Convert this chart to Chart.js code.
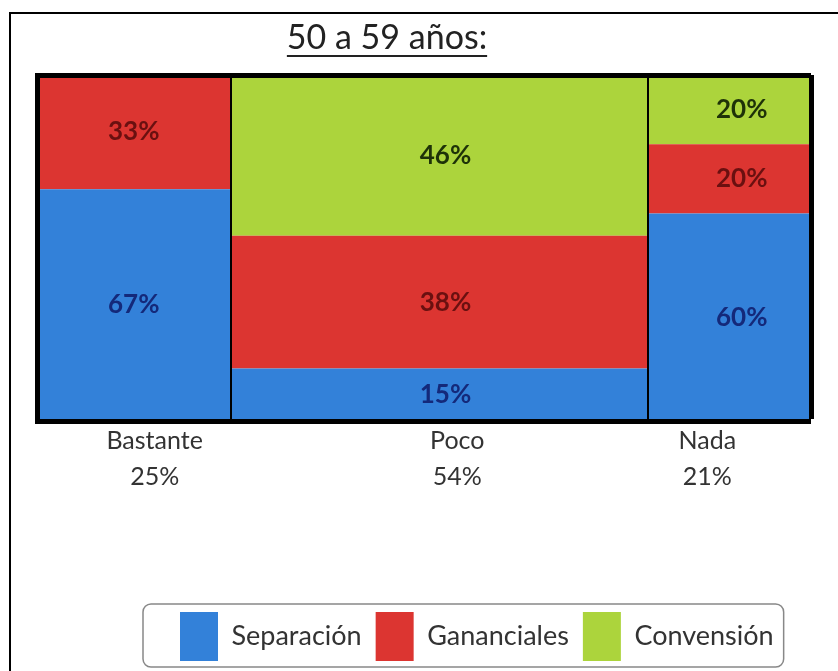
<!DOCTYPE html>
<html><head><meta charset="utf-8">
<script src="https://cdn.jsdelivr.net/npm/chart.js@4.4.1/dist/chart.umd.min.js"></script>
<style>html,body{margin:0;padding:0;background:#fff;overflow:hidden}</style>
</head><body>
<canvas id="c" width="838" height="671"></canvas>
<script>
// ---- data ----
const titleText = '50 a 59 años:';
const categories = ['Bastante', 'Poco', 'Nada'];
const categoryShare = [25, 54, 21];
const seriesNames = ['Separación', 'Gananciales', 'Convensión'];
const separacion = [67, 15, 60];
const gananciales = [33, 38, 20];
const convension = [0, 46, 20];

// ---- styles / layout ----
const FONT = 'Lato, "DejaVu Sans", sans-serif';
const colors = ['#3381d9', '#dc3531', '#acd43c'];
const labelColors = ['#14297a', '#6a1010', '#1e3208'];
const labelTickPos = [15.2, 54.3, 86.6];   // axis units where category captions sit
const cellLabelDx = [0, 6, 12];
const legendStartX = 180;

const seriesValues = [separacion, gananciales, convension];
const bounds = [0];
categoryShare.forEach((s, i) => bounds.push(bounds[i] + s));
const totals = categories.map((_, j) => seriesValues.reduce((a, s) => a + s[j], 0));
const cum = seriesValues.map((_, i) => categories.map((_, j) => {
  let t = 0; for (let k = 0; k <= i; k++) t += seriesValues[k][j];
  return t / totals[j] * 100;
}));

const datasets = seriesNames.map((name, i) => ({
  label: name,
  data: categories.map((_, j) => ({x: bounds[j], y: cum[i][j]}))
        .concat([{x: bounds[categories.length], y: cum[i][categories.length - 1]}]),
  stepped: true,
  backgroundColor: colors[i],
  borderColor: colors[i],
  borderWidth: 0,
  pointRadius: 0,
  pointHoverRadius: 0,
  fill: i === 0 ? 'origin' : '-1'
}));

const decoPlugin = {
  id: 'deco',
  beforeDraw(chart) {
    const c = chart.ctx;
    c.save();
    c.fillStyle = '#fff'; c.fillRect(0, 0, chart.width, chart.height);
    c.strokeStyle = '#000'; c.lineWidth = 2;
    c.strokeRect(10, 13, 900, 900);
    c.restore();
  },
  afterLayout(chart) {
    const lg = chart.legend;
    if (!lg) return;
    const dx = legendStartX - (lg.left + lg.options.labels.padding);
    lg.left += dx; lg.right += dx;
  },
  afterDatasetsDraw(chart) {
    const c = chart.ctx, xs = chart.scales.x, ys = chart.scales.y;
    c.save();
    c.font = 'bold 26px ' + FONT;
    c.textAlign = 'center'; c.textBaseline = 'middle';
    seriesValues.forEach((vals, i) => vals.forEach((v, j) => {
      if (!v) return;
      const x = xs.getPixelForValue((bounds[j] + bounds[j + 1]) / 2) + cellLabelDx[j];
      const yTop = ys.getPixelForValue(cum[i][j]);
      const yBot = ys.getPixelForValue(i ? cum[i - 1][j] : 0);
      c.fillStyle = labelColors[i];
      c.fillText(v + '%', x, (yTop + yBot) / 2);
    }));
    c.restore();
  },
  afterDraw(chart) {
    const c = chart.ctx, ca = chart.chartArea;
    c.save();
    // title with underline
    c.font = '34px ' + FONT;
    c.fillStyle = '#222';
    c.textAlign = 'center'; c.textBaseline = 'alphabetic';
    const tx = (ca.left + ca.right) / 2 - 37;
    c.fillText(titleText, tx, 49);
    const w = c.measureText(titleText).width;
    c.strokeStyle = '#222'; c.lineWidth = 2;
    c.beginPath(); c.moveTo(tx - w / 2, 56); c.lineTo(tx + w / 2, 56); c.stroke();
    // legend frame
    const hb = chart.legend.legendHitBoxes;
    if (hb && hb.length) {
      const last = hb[hb.length - 1];
      const l = hb[0].left - 37, r = last.left + last.width + 10;
      const t = hb[0].top - 8, b = hb[0].top + hb[0].height + 6;
      c.strokeStyle = '#888'; c.lineWidth = 1.5;
      c.beginPath();
      c.roundRect(l, t, r - l, b - t, 8);
      c.stroke();
    }
    c.restore();
  }
};

new Chart(document.getElementById('c'), {
  type: 'line',
  data: {datasets},
  options: {
    responsive: false,
    animation: false,
    events: [],
    layout: {padding: {top: 75, left: 37, right: 27, bottom: 0}},
    scales: {
      x: {
        type: 'linear', min: 0, max: 100, z: 1, weight: 0,
        afterBuildTicks: s => { s.ticks = bounds.map(v => ({value: v})); },
        ticks: {display: false},
        grid: {z: 1, drawTicks: false, color: '#000',
               lineWidth: ctx => ctx.tick && ctx.tick.value === 0 ? 0 : (ctx.tick && ctx.tick.value === 100 ? 5 : 2)},
        border: {z: 2, display: true, color: '#000', width: 5},
        afterFit: s => { s.height = 0; }
      },
      xl: {
        type: 'linear', position: 'bottom', min: 0, max: 100, weight: 1,
        afterBuildTicks: s => { s.ticks = labelTickPos.map(v => ({value: v})); },
        ticks: {autoSkip: false, maxRotation: 0, padding: 2, color: '#333',
                font: {family: FONT, size: 25, lineHeight: 1.44},
                callback: (v, i) => [categories[i], categoryShare[i] + '%']},
        grid: {display: false, drawTicks: false},
        border: {display: false},
        afterFit: s => { s.height = 177; }
      },
      y: {
        type: 'linear', min: 0, max: 100, z: 1,
        afterBuildTicks: s => { s.ticks = [{value: 0}, {value: 100}]; },
        ticks: {display: false},
        grid: {z: 1, drawTicks: false, color: '#000',
               lineWidth: ctx => ctx.tick && ctx.tick.value === 100 ? 5 : 0},
        border: {z: 2, display: true, color: '#000', width: 5},
        afterFit: s => { s.width = 0; }
      }
    },
    plugins: {
      title: {display: false},
      tooltip: {enabled: false},
      legend: {
        position: 'bottom', align: 'start',
        labels: {boxWidth: 38, boxHeight: 49, padding: 14, color: '#333',
                 font: {family: FONT, size: 27}}
      }
    }
  },
  plugins: [decoPlugin]
});
</script>
</body></html>
